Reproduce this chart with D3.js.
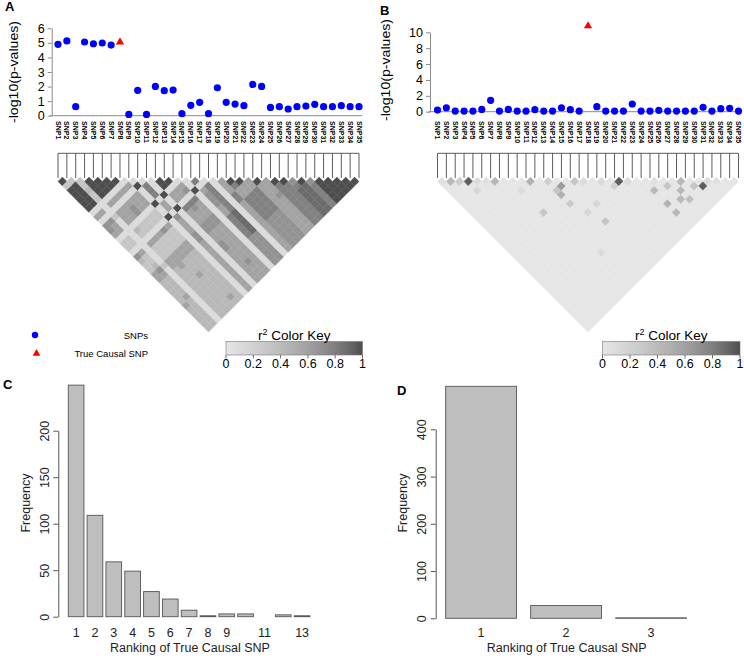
<!DOCTYPE html>
<html>
<head>
<meta charset="utf-8">
<script src="https://cdn.jsdelivr.net/npm/d3@7/dist/d3.min.js"></script>
<style>
  body { margin: 0; background: #fff; }
  svg { display: block; font-family: "Liberation Sans", Arial, Helvetica, sans-serif; }
</style>
</head>
<body>
<svg id="fig" width="744" height="659"></svg>
<script>
// ---- values ----
var snpNames = ["SNP1","SNP2","SNP3","SNP4","SNP5","SNP6","SNP7","SNP8","SNP9","SNP10",
  "SNP11","SNP12","SNP13","SNP14","SNP15","SNP16","SNP17","SNP18","SNP19","SNP20",
  "SNP21","SNP22","SNP23","SNP24","SNP25","SNP26","SNP27","SNP28","SNP29","SNP30",
  "SNP31","SNP32","SNP33","SNP34","SNP35"];

// -log10(p) per SNP, panel A and panel B
var logpA = [4.90,5.13,0.62,5.06,4.94,4.99,4.85,5.05,0.09,1.74,0.09,2.01,1.72,1.76,0.14,0.71,0.92,0.14,
  1.92,0.92,0.80,0.69,2.15,2.01,0.57,0.62,0.46,0.62,0.66,0.78,0.62,0.62,0.69,0.62,0.62];
var logpB = [0.21,0.50,0.08,0.08,0.08,0.29,1.43,0.08,0.29,0.08,0.08,0.25,0.08,0.08,0.50,0.25,0.08,10.8,
  0.63,0.08,0.08,0.08,0.97,0.08,0.08,0.17,0.08,0.08,0.08,0.08,0.55,0.08,0.38,0.42,0.08];
var causalA = "SNP8";
var causalB = "SNP18";
var logpTicksA = [0,1,2,3,4,5,6];
var logpTicksB = [0,2,4,6,8,10];

// LD (r^2) panel A, row i holds SNP i against SNP i+1..35, one digit per pair (r2 = digit/9)
var ldRowsA = [
  "9399999" + "151665133" + "164335544" + "444544444",
  "399999" + "151655133" + "153346544" + "445444444",
  "33433" + "111311111" + "111113111" + "111111111",
  "9999" + "151555143" + "153335544" + "444444444",
  "999" + "151555133" + "153335554" + "444444444",
  "99" + "151566133" + "153335544" + "454444444",
  "9" + "151555133" + "163335544" + "444444454",
  "151555133" + "153335544" + "444444444",
  "19111911" + "911111111" + "111111111",
  "1777155" + "165556655" + "555555555",
  "111911" + "911111111" + "111111111",
  "99155" + "175556655" + "665555555",
  "9155" + "176556655" + "555556555",
  "156" + "175556655" + "555555555",
  "11" + "911111111" + "111111111",
  "7" + "156665577" + "777666666",
  "177777788" + "888666666",
  "11111111" + "111111111",
  "5557755" + "555555555",
  "975577" + "777666666",
  "95577" + "777666666",
  "5577" + "777666666",
  "955" + "555555555",
  "55" + "565555555",
  "9" + "777777777",
  "977777777",
  "67888888",
  "9888888",
  "677777",
  "99999",
  "9999",
  "999",
  "99",
  "9"
];

// LD panel B: almost no LD, only these pairs stand out [snp i, snp j, r2]
var ldBaseB = 0.03;
var ldPairsB = [[1,2,0.08],[2,3,0.4],[3,4,0.25],[4,5,0.9],[5,6,0.12],[4,7,0.15],[6,7,0.08],[7,8,0.4],
  [9,12,0.12],[11,12,0.45],[13,14,0.2],[14,16,0.6],[13,16,0.3],[13,17,0.45],[16,17,0.3],[9,17,0.3],
  [13,19,0.25],[14,22,0.15],[16,22,0.15],[15,25,0.3],[11,28,0.1],[17,18,0.1],[19,20,0.1],[20,22,0.2],
  [21,22,0.9],[22,23,0.1],[24,27,0.4],[25,26,0.08],[26,28,0.3],[28,29,0.4],[27,30,0.4],[29,31,0.3],
  [30,32,0.9],[24,30,0.45],[26,31,0.4],[27,32,0.35],[24,32,0.4],[31,32,0.12],[32,33,0.08]];

var keyTicks = [0, 0.2, 0.4, 0.6, 0.8, 1];
var keyTickLabels = ["0", "0.2", "0.4", "0.6", "0.8", "1"];

// panel C / D: ranking histogram
var rankC = ["1","2","3","4","5","6","7","8","9","10","11","12","13"];
var freqC = [249,109,59,49,27,19,7,1,3,3,0,2,1];
var rankLabelsC = ["1","2","3","4","5","6","7","8","9","11","13"];
var freqTicksC = [0,50,100,150,200];
var rankD = ["1","2","3"];
var freqD = [491,27,1];
var freqTicksD = [0,100,200,300,400];

var svg = d3.select("#fig");
var defs = svg.append("defs");

// grey.colors(20) style ramp, light for r2=0 and dark for r2=1
function ldColor(v) {
  var k = Math.max(0, Math.min(19, Math.floor(v * 20)));
  var a = Math.pow(0.9, 2.2), b = Math.pow(0.3, 2.2);
  var g = Math.pow(a + (b - a) * k / 19, 1 / 2.2);
  var c = Math.round(g * 255);
  return d3.rgb(c, c, c).formatHex();
}

function panelLetter(x, y, t) {
  svg.append("text").attr("x", x).attr("y", y).attr("font-size", 13).attr("font-weight", "bold").text(t);
}

function yTitle(x, y, t, len) {
  svg.append("text").attr("transform", "translate(" + x + "," + y + ") rotate(-90)")
    .attr("text-anchor", "middle").attr("font-size", 12)
    .attr("textLength", len).attr("lengthAdjust", "spacingAndGlyphs").text(t);
}

function drawScatter(x, y, ticks, vals, causal, axisX, lineEnd) {
  var g = svg.append("g");
  g.append("line").attr("x1", axisX - 1.5).attr("x2", lineEnd)
    .attr("y1", y(0)).attr("y2", y(0)).attr("stroke", "#8a8a8a");
  var ax = g.append("g").attr("transform", "translate(" + axisX + ",0)")
    .call(d3.axisLeft(y).tickValues(ticks).tickFormat(d3.format("d"))
      .tickSize(4).tickSizeOuter(0).tickPadding(3));
  ax.attr("font-family", null).attr("font-size", 12.5);
  ax.select(".domain").attr("stroke", "#8a8a8a");
  ax.selectAll(".tick line").attr("stroke", "#8a8a8a");
  ax.selectAll(".tick text").attr("fill", "#000");

  var pts = snpNames.map(function(s, i) { return {snp: s, v: vals[i]}; });
  g.selectAll("circle.snp").data(pts.filter(function(d) { return d.snp !== causal; }))
    .join("circle").attr("class", "snp")
    .attr("cx", function(d) { return x(d.snp); })
    .attr("cy", function(d) { return y(d.v); })
    .attr("r", 3.6).attr("fill", "#0000ff");
  g.selectAll("path.causal").data(pts.filter(function(d) { return d.snp === causal; }))
    .join("path").attr("class", "causal")
    .attr("d", d3.symbol().type(d3.symbolTriangle).size(30)())
    .attr("transform", function(d) { return "translate(" + x(d.snp) + "," + y(d.v) + ")"; })
    .attr("fill", "#ff0000");

  g.selectAll("text.lab").data(snpNames).join("text").attr("class", "lab")
    .attr("transform", function(s) { return "translate(" + x(s) + ",121) rotate(90)"; })
    .attr("dy", "0.35em").attr("font-size", 7).attr("font-weight", "bold").text(function(s) { return s; });
}

function drawLD(x, cells) {
  var g = svg.append("g");
  var h = x.step() / 2, top = 177.1, mapY = 153.3;
  g.selectAll("path.cell").data(cells).join("path").attr("class", "cell")
    .attr("d", function(c) {
      var cx = (x(snpNames[c.i - 1]) + x(snpNames[c.j - 1])) / 2;
      var cy = top + (c.j - c.i) * h;
      return "M" + cx + "," + (cy - h) + "L" + (cx + h) + "," + cy + "L" + cx + "," + (cy + h) + "L" + (cx - h) + "," + cy + "Z";
    })
    .attr("fill", function(c) { return ldColor(c.v); })
    .attr("stroke", function(c) { return ldColor(c.v); })
    .attr("stroke-width", 0.4);
  // map lines above the triangle
  g.append("line").attr("x1", x(snpNames[0])).attr("x2", x(snpNames[34]))
    .attr("y1", mapY).attr("y2", mapY).attr("stroke", "#333").attr("stroke-width", 0.8);
  g.selectAll("line.tick").data(snpNames).join("line").attr("class", "tick")
    .attr("x1", function(s) { return x(s); }).attr("x2", function(s) { return x(s); })
    .attr("y1", mapY).attr("y2", 178).attr("stroke", "#333").attr("stroke-width", 0.8);
}

function drawKey(id, x0, x1) {
  var kx = d3.scaleLinear().domain([0, 1]).range([x0, x1]);
  var grad = defs.append("linearGradient").attr("id", id);
  d3.range(20).forEach(function(k) {
    grad.append("stop").attr("offset", (k / 19 * 100) + "%").attr("stop-color", ldColor((k + 0.5) / 20));
  });
  var g = svg.append("g");
  g.append("rect").attr("x", x0).attr("y", 341.5).attr("width", x1 - x0).attr("height", 13.5)
    .attr("fill", "url(#" + id + ")").attr("stroke", "#777").attr("stroke-width", 0.6);
  g.selectAll("line").data(keyTicks).join("line")
    .attr("x1", kx).attr("x2", kx).attr("y1", 355).attr("y2", 358.5).attr("stroke", "#333").attr("stroke-width", 0.7);
  g.selectAll("text.kt").data(keyTicks).join("text").attr("class", "kt")
    .attr("x", kx).attr("y", 367.5).attr("text-anchor", "middle").attr("font-size", 12.5)
    .text(function(d, i) { return keyTickLabels[i]; });
  var t = g.append("text").attr("x", (x0 + x1) / 2).attr("y", 339.5).attr("text-anchor", "middle").attr("font-size", 13.5);
  t.append("tspan").text("r");
  t.append("tspan").attr("dy", -5).attr("font-size", 9).text("2");
  t.append("tspan").attr("dy", 5).text(" Color Key");
}

function drawBars(x, y, ranks, freqs, ticks, axisX, labels, titleX, freqX) {
  var g = svg.append("g");
  var data = ranks.map(function(r, i) { return {r: r, f: freqs[i]}; });
  g.selectAll("rect").data(data).join("rect")
    .attr("x", function(d) { return x(d.r); }).attr("width", x.bandwidth())
    .attr("y", function(d) { return y(d.f); })
    .attr("height", function(d) { return y(0) - y(d.f); })
    .attr("fill", "#bebebe").attr("stroke", "#555").attr("stroke-width", 0.9);
  var ax = g.append("g").attr("transform", "translate(" + axisX + ",0)")
    .call(d3.axisLeft(y).tickValues(ticks).tickSize(5).tickSizeOuter(0));
  ax.attr("font-family", null).attr("font-size", 12.5);
  ax.select(".domain").attr("stroke", "#555");
  ax.selectAll(".tick line").attr("stroke", "#555");
  ax.selectAll(".tick text").attr("x", 0).attr("dy", 0).attr("text-anchor", "middle")
    .attr("fill", "#222").attr("transform", "translate(-9.5,0) rotate(-90)");
  g.selectAll("text.rk").data(labels).join("text").attr("class", "rk")
    .attr("x", function(r) { return x(r) + x.bandwidth() / 2; }).attr("y", 637)
    .attr("text-anchor", "middle").attr("font-size", 12.5).attr("fill", "#222").text(function(r) { return r; });
  g.append("text").attr("x", titleX).attr("y", 652).attr("text-anchor", "middle")
    .attr("font-size", 12.5).attr("fill", "#222").text("Ranking of True Causal SNP");
  g.append("text").attr("transform", "translate(" + freqX + ",503) rotate(-90)")
    .attr("text-anchor", "middle").attr("font-size", 12.5).attr("fill", "#222").text("Frequency");
}

// ---- panel A ----
var xA = d3.scalePoint().domain(snpNames).range([58, 359]);
var yA = d3.scaleLinear().domain([0, 6]).range([115.7, 28.3]);
drawScatter(xA, yA, logpTicksA, logpA, causalA, 51.7, 362);
var cellsA = [];
ldRowsA.forEach(function(row, r) {
  for (var k = 0; k < row.length; k++) {
    var i = r + 1, j = r + 2 + k;
    if (j <= snpNames.length) cellsA.push({i: i, j: j, v: +row[k] / 9});
  }
});
drawLD(xA, cellsA);
drawKey("keyA", 226, 362.5);
yTitle(18, 72, "-log10(p-values)", 102);
panelLetter(5, 11, "A");

// legend
svg.append("circle").attr("cx", 35).attr("cy", 335).attr("r", 3.2).attr("fill", "#0000ff");
svg.append("path").attr("d", d3.symbol().type(d3.symbolTriangle).size(26)())
  .attr("transform", "translate(36.5,353.5)").attr("fill", "#ff0000");
svg.append("text").attr("x", 148).attr("y", 338.5).attr("text-anchor", "end").attr("font-size", 9.5).text("SNPs");
svg.append("text").attr("x", 148).attr("y", 357).attr("text-anchor", "end").attr("font-size", 9.5).text("True Causal SNP");

// ---- panel B ----
var xB = d3.scalePoint().domain(snpNames).range([437.5, 738.5]);
var yB = d3.scaleLinear().domain([0, 10]).range([111.7, 32.3]);
drawScatter(xB, yB, logpTicksB, logpB, causalB, 430, 741);
var ldB = {};
ldPairsB.forEach(function(p) { ldB[p[0] + "-" + p[1]] = p[2]; });
var cellsB = [];
for (var i = 1; i < snpNames.length; i++) {
  for (var j = i + 1; j <= snpNames.length; j++) {
    var key = i + "-" + j;
    cellsB.push({i: i, j: j, v: key in ldB ? ldB[key] : ldBaseB});
  }
}
drawLD(xB, cellsB);
drawKey("keyB", 602.5, 740);
yTitle(389.5, 70, "-log10(p-values)", 102);
panelLetter(380, 15, "B");

// ---- panel C ----
var xC = d3.scaleBand().domain(rankC).range([66.7, 311.5]).paddingInner(1 / 6).paddingOuter(1 / 12);
var yC = d3.scaleLinear().domain([0, 200]).range([616.7, 430.7]);
drawBars(xC, yC, rankC, freqC, freqTicksC, 58.3, rankLabelsC, 190, 30);
panelLetter(3, 389, "C");

// ---- panel D ----
var xD = d3.scaleBand().domain(rankD).range([438.6, 693.6]).paddingInner(1 / 6).paddingOuter(1 / 12);
var yD = d3.scaleLinear().domain([0, 400]).range([618.3, 429.3]);
drawBars(xD, yD, rankD, freqD, freqTicksD, 435.7, rankD, 566.7, 407);
panelLetter(397, 395, "D");
</script>
</body>
</html>
